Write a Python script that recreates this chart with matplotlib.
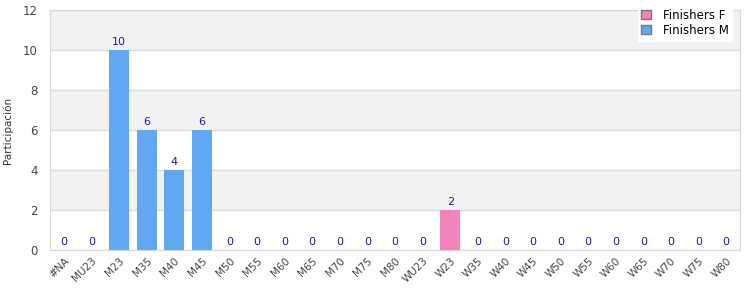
import matplotlib.pyplot as plt
import matplotlib.patches as mpatches
import numpy as np

# ----- Data -----
categories = ["#NA", "MU23", "M23", "M35", "M40", "M45", "M50", "M55", "M60",
              "M65", "M70", "M75", "M80", "WU23", "W23", "W35", "W40", "W45",
              "W50", "W55", "W60", "W65", "W70", "W75", "W80"]
finishers_m = [0, 0, 10, 6, 4, 6, 0, 0, 0, 0, 0, 0, 0, 0, 0, 0, 0, 0, 0, 0, 0, 0, 0, 0, 0]
finishers_f = [0, 0, 0, 0, 0, 0, 0, 0, 0, 0, 0, 0, 0, 0, 2, 0, 0, 0, 0, 0, 0, 0, 0, 0, 0]

col_m = "#60a8f2"
col_f = "#f283bb"

fig = plt.figure(figsize=(7.5, 3), dpi=100)
ax = fig.add_axes([0.0667, 0.1667, 0.92, 0.8])

x = np.arange(len(categories))
ax.set_xlim(-0.5, len(categories) - 0.5)
ax.set_ylim(0, 12)

# alternating bands
for lo in range(0, 12, 2):
    if (lo // 2) % 2 == 1:
        ax.axhspan(lo, lo + 2, color="#f2f2f2", zorder=0)
ax.set_yticks(range(0, 13, 2))
ax.grid(axis="y", color="#dddddd", linewidth=1, zorder=1)

ax.bar(x, finishers_m, width=0.72, color=col_m, zorder=2)
ax.bar(x, finishers_f, width=0.72, bottom=finishers_m, color=col_f, zorder=2)

totals = [m + f for m, f in zip(finishers_m, finishers_f)]
for xi, t in zip(x, totals):
    ax.text(xi, t + 0.15, str(t), ha="center", va="bottom", fontsize=8, color="#1c1c8c")

ax.set_xticks(x)
ax.set_xticklabels(categories, rotation=45, ha="right", rotation_mode="anchor",
                   fontsize=7.5, color="#444444")
ax.tick_params(axis="y", labelsize=8.5, colors="#444444", length=0, pad=9)
ax.tick_params(axis="x", length=0, pad=4)
ax.set_ylabel("Participación", fontsize=7.5, color="#333333", labelpad=7)

for s in ax.spines.values():
    s.set_color("#d8d8d8")

handles = [mpatches.Patch(facecolor=col_f, edgecolor="#777777", label="Finishers F"),
           mpatches.Patch(facecolor=col_m, edgecolor="#777777", label="Finishers M")]
leg = ax.legend(handles=handles, loc="upper right", bbox_to_anchor=(0.997, 1.045),
                fontsize=8.5, frameon=True, fancybox=False, handlelength=0.8,
                handleheight=0.8, handletextpad=1.0, labelspacing=0.2, borderpad=0.3)
leg.get_frame().set_facecolor("white")
leg.get_frame().set_edgecolor("white")
leg.get_frame().set_alpha(1)
leg.set_zorder(5)

fig.savefig("out.png", dpi=100)
